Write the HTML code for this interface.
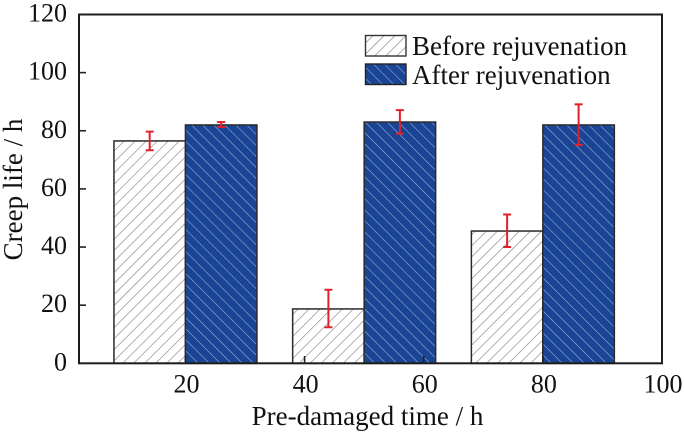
<!DOCTYPE html>
<html>
<head>
<meta charset="utf-8">
<style>
html,body{margin:0;padding:0;background:#fff;width:685px;height:434px;overflow:hidden}
svg{display:block;font-family:"Liberation Serif",serif;fill:#111;filter:blur(0.3px)}
</style>
</head>
<body>
<svg id="chart" xmlns="http://www.w3.org/2000/svg" width="685" height="434" viewBox="0 0 685 434">
<defs>
<pattern id="hatch-before" patternUnits="userSpaceOnUse" width="7.8" height="7.8" patternTransform="rotate(45)">
<rect width="7.8" height="7.8" fill="#fff"/>
<line x1="0" y1="0" x2="0" y2="7.8" stroke="#7c7c7c" stroke-width="1.2"/>
</pattern>
<pattern id="hatch-after" patternUnits="userSpaceOnUse" width="7.8" height="7.8" patternTransform="rotate(-45)">
<rect width="7.8" height="7.8" fill="#1a4595"/>
<line x1="0" y1="0" x2="0" y2="7.8" stroke="#9fb3d8" stroke-width="1.1"/>
</pattern>
</defs>
<g id="marks"></g>
<g id="axes"></g>
<g>
<rect x="365.5" y="35.5" width="40.5" height="20.5" fill="url(#hatch-before)" stroke="#333" stroke-width="1.4"/>
<text x="412" y="55" font-size="27">Before rejuvenation</text>
<rect x="365.5" y="64" width="40.5" height="20.5" fill="url(#hatch-after)" stroke="#222" stroke-width="1.4"/>
<text x="412" y="84" font-size="27">After rejuvenation</text>
</g>
<text x="367.5" y="425" font-size="27" text-anchor="middle">Pre-damaged time / h</text>
<text transform="translate(22,189.5) rotate(-90)" font-size="27" text-anchor="middle">Creep life / h</text>
</svg>
<script>
var groups = [20, 50, 80];
var beforeValues = [76.5, 18.7, 45.5];
var afterValues = [82, 83, 82];
var beforeErrLow = [73.3, 12.4, 40];
var beforeErrHigh = [79.7, 25.3, 51.2];
var afterErrLow = [81.3, 79, 75.1];
var afterErrHigh = [83, 87.1, 89.1];
var xTicks = [20, 40, 60, 80, 100];
var yTicks = [0, 20, 40, 60, 80, 100, 120];
var barUnits = 12;

var NS = 'http://www.w3.org/2000/svg';
function xScale(v) { return 66.3 + (v - 0) * 5.957; }
function yScale(v) { return 363.3 - v * 2.9067; }
function make(parent, tag, attrs) {
  var el = document.createElementNS(NS, tag);
  for (var k in attrs) el.setAttribute(k, attrs[k]);
  parent.appendChild(el);
  return el;
}
var marks = document.getElementById('marks');
var axes = document.getElementById('axes');

function drawBar(x0, x1, value, fill, name) {
  var el = make(marks, 'rect', {
    x: xScale(x0), y: yScale(value),
    width: xScale(x1) - xScale(x0), height: yScale(0) - yScale(value),
    fill: fill, stroke: '#2a2a2a', 'stroke-width': 1.5
  });
  
  
}
function drawError(xc, low, high, name) {
  var g = make(marks, 'g', { stroke: '#e0202c', 'stroke-width': 2 });
  
  
  var px = xScale(xc);
  make(g, 'line', { x1: px, x2: px, y1: yScale(low), y2: yScale(high) });
  make(g, 'line', { x1: px - 4, x2: px + 4, y1: yScale(low), y2: yScale(low) });
  make(g, 'line', { x1: px - 4, x2: px + 4, y1: yScale(high), y2: yScale(high) });
}
groups.forEach(function (g, i) {
  drawBar(g - barUnits, g, beforeValues[i], 'url(#hatch-before)', 'bar-before-' + g);
  drawBar(g, g + barUnits, afterValues[i], 'url(#hatch-after)', 'bar-after-' + g);
});
groups.forEach(function (g, i) {
  drawError(g - barUnits / 2, beforeErrLow[i], beforeErrHigh[i], 'error-bar-before-' + g);
  drawError(g + barUnits / 2, afterErrLow[i], afterErrHigh[i], 'error-bar-after-' + g);
});

var frame = make(axes, 'rect', { x: 79, y: 14.5, width: 583, height: 348.8, fill: 'none', stroke: '#1c1c1c', 'stroke-width': 2 });



yTicks.forEach(function (t) {
  var y = yScale(t);
  var tick = make(axes, 'line', { x1: 79, x2: 86, y1: y, y2: y, stroke: '#222', 'stroke-width': 1.6 });
  
  
  var label = make(axes, 'text', { x: 67, y: y + 7, 'font-size': 26, 'text-anchor': 'end' });
  label.textContent = t;
  
  
});
xTicks.forEach(function (t) {
  var x = xScale(t);
  var tick = make(axes, 'line', { x1: x, x2: x, y1: 363.3, y2: 356, stroke: '#222', 'stroke-width': 1.6 });
  
  
  var label = make(axes, 'text', { x: x + 1, y: 392.5, 'font-size': 26, 'text-anchor': 'middle' });
  label.textContent = t;
  
  
});
</script>
</body>
</html>
